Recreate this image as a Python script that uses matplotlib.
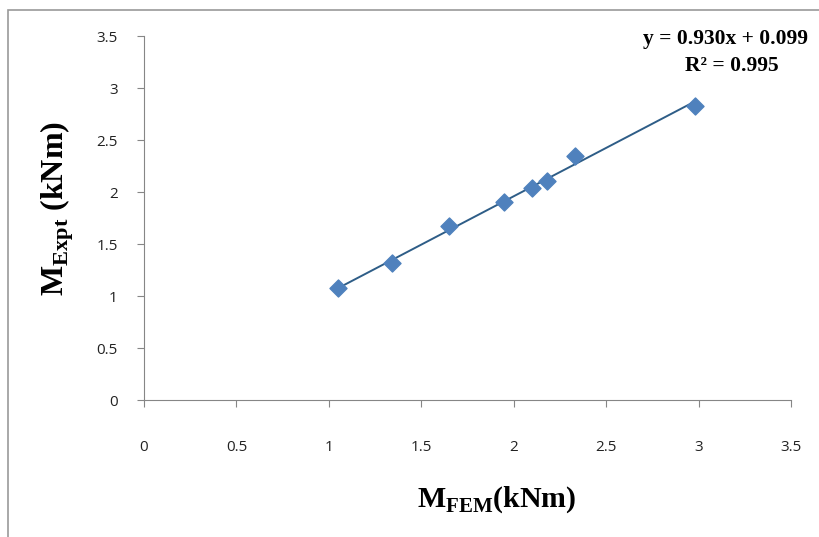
import matplotlib.pyplot as plt
from matplotlib.patches import Rectangle

# data
m_fem = [1.05, 1.34, 1.65, 1.95, 2.10, 2.18, 2.33, 2.98]
m_expt = [1.08, 1.32, 1.67, 1.90, 2.04, 2.11, 2.35, 2.83]
slope = 0.930
intercept = 0.099
r2 = 0.995
ticks = [0, 0.5, 1, 1.5, 2, 2.5, 3, 3.5]

plt.rcParams['mathtext.fontset'] = 'custom'
plt.rcParams['mathtext.rm'] = 'Liberation Serif:bold'
plt.rcParams['mathtext.bf'] = 'Liberation Serif:bold'

fig = plt.figure(figsize=(8.19, 5.37), dpi=100)

# chart area border from the screenshot
fig.patches.append(Rectangle((8 / 819, -0.01), 1.0, 1 - 10 / 537 + 0.01,
                             transform=fig.transFigure, fill=False,
                             edgecolor='#9a9a9a', linewidth=1.2))

ax = fig.add_axes([144 / 819, 1 - 400 / 537, (791 - 144) / 819, (400 - 36) / 537])

ax.scatter(m_fem, m_expt, marker='D', s=75, color='#4F81BD', zorder=3)
x_fit = [min(m_fem), max(m_fem)]
ax.plot(x_fit, [slope * v + intercept for v in x_fit], color='#2E5D87', linewidth=1.4, zorder=2)

ax.set_xlim(0, 3.5)
ax.set_ylim(0, 3.5)
ax.set_xticks(ticks)
ax.set_yticks(ticks)
ax.set_xticklabels([f'{t:g}' for t in ticks])
ax.set_yticklabels([f'{t:g}' for t in ticks])
for s in ['top', 'right']:
    ax.spines[s].set_visible(False)
for s in ['left', 'bottom']:
    ax.spines[s].set_color('#868686')
ax.tick_params(axis='both', direction='out', length=5, color='#868686',
               labelsize=11, labelcolor='#222222')
ax.tick_params(axis='x', pad=24)
ax.tick_params(axis='y', pad=14)
for lab in ax.get_xticklabels() + ax.get_yticklabels():
    lab.set_family('Open Sans')

fig.text(497 / 819, 1 - 500 / 537, r'$\mathrm{M}_{\mathrm{FEM}}$(kNm)', fontsize=21.5,
         family='Liberation Serif', weight='bold', ha='center', va='center')
fig.text(57 / 819, 1 - 209 / 537, r'$\mathrm{M}_{\mathrm{Expt}}$ (kNm)', fontsize=23,
         family='Liberation Serif', weight='bold', ha='center', va='center', rotation=90)

fig.text(643 / 819, 1 - 39 / 537, f'y = {slope:.3f}x + {intercept:.3f}', fontsize=15.5,
         family='Liberation Serif', weight='bold', ha='left', va='center')
fig.text(732 / 819, 1 - 66 / 537, f'R² = {r2:.3f}', fontsize=15.5,
         family='Liberation Serif', weight='bold', ha='center', va='center')

fig.savefig('out.png', dpi=100)
